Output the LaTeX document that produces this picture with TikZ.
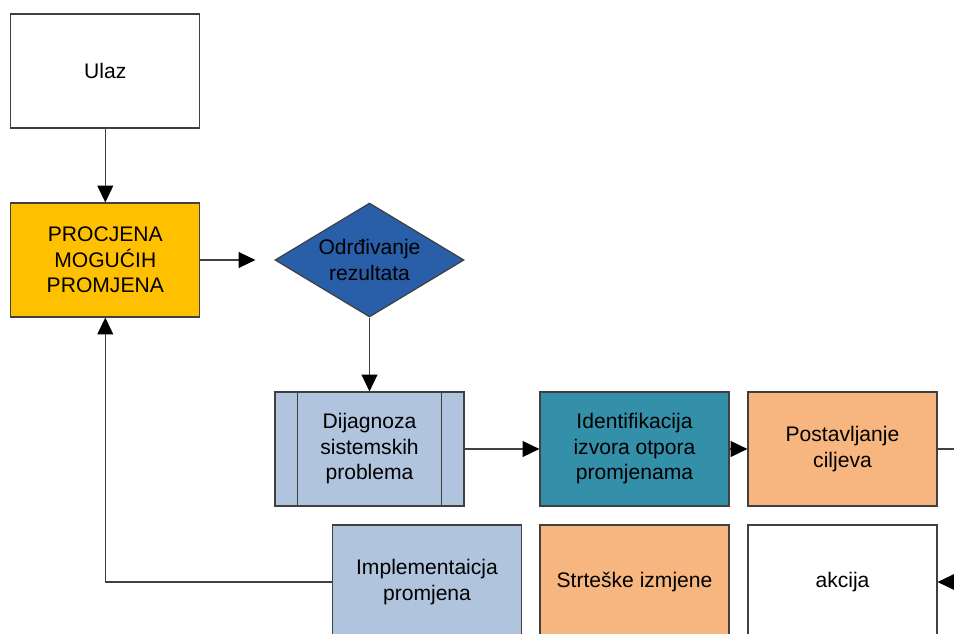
\documentclass[tikz,border=0pt]{standalone}
\usepackage{fontspec}
\setmainfont{Liberation Sans}
\usetikzlibrary{arrows.meta,shapes,positioning}

\definecolor{zlato}{RGB}{255,192,0}
\definecolor{plava}{RGB}{41,94,168}
\definecolor{sivoplava}{RGB}{176,196,222}
\definecolor{tirkiz}{RGB}{51,144,168}
\definecolor{narandza}{RGB}{247,182,127}
\definecolor{linija}{RGB}{64,64,64}

\begin{document}
\begin{tikzpicture}[x=0.02cm, y=-0.02cm,
  kutija/.style={draw=linija, line width=0.7pt, rectangle, minimum width=3.78cm, minimum height=2.28cm, align=center, font=\fontsize{12}{14.5}\selectfont, inner sep=2pt},
  veza/.style={draw=linija, line width=0.6pt, -{Triangle[length=9.5pt,width=9pt,color=black]}}]
\clip (0,0) rectangle (954,633);
\fill[white] (0,0) rectangle (954,633);

% gornji dio
\node [kutija, fill=white] (ulaz) at (105.3,71) {Ulaz};
\node [kutija, fill=zlato] (procjena) at (105.3,260) {PROCJENA\\MOGUĆIH\\PROMJENA};
\node [kutija, diamond, fill=plava, aspect=1.66, inner sep=0pt, minimum width=3.78cm, minimum height=2.28cm] (odredjivanje) at (369.5,260) {Odrđivanje\\rezultata};

% srednji red
\node [kutija, fill=sivoplava] (dijagnoza) at (369.5,449) {Dijagnoza\\sistemskih\\problema};
\draw [linija, line width=0.7pt] ([xshift=0.46cm]dijagnoza.north west) -- ([xshift=0.46cm]dijagnoza.south west);
\draw [linija, line width=0.7pt] ([xshift=-0.46cm]dijagnoza.north east) -- ([xshift=-0.46cm]dijagnoza.south east);
\node [kutija, fill=tirkiz] (identifikacija) at (634.5,449) {Identifikacija\\izvora otpora\\promjenama};
\node [kutija, fill=narandza] (postavljanje) at (842.5,449) {Postavljanje\\ciljeva};

% donji red
\node [kutija, fill=sivoplava] (implementacija) at (427,582) {Implementaicja\\promjena};
\node [kutija, fill=narandza] (izmjene) at (634.5,582) {Strteške izmjene};
\node [kutija, fill=white] (akcija) at (842.5,582) {akcija};

\coordinate (desnogore) at (970,449);
\coordinate (desnodole) at (970,582);

% veze
\draw [veza] (ulaz) -- (procjena);
\draw [veza, shorten >=0.38cm] (procjena) -- (odredjivanje);
\draw [veza] (odredjivanje) -- (dijagnoza);
\draw [veza] (dijagnoza) -- (identifikacija);
\draw [veza] (identifikacija) -- (postavljanje);
\draw [draw=linija, line width=0.6pt] (postavljanje) -- (desnogore);
\draw [veza] (desnodole) -- (akcija);
\draw [veza] (implementacija.west) -| (procjena.south);
\end{tikzpicture}
\end{document}
